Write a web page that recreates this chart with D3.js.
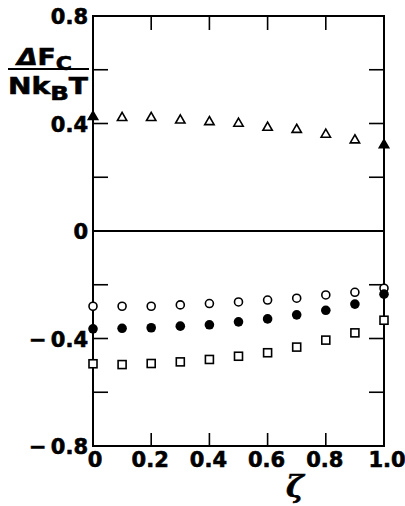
<!DOCTYPE html>
<html>
<head>
<meta charset="utf-8">
<script src="https://cdn.jsdelivr.net/npm/d3@7"></script>
<style>
  body { margin: 0; background: #fff; }
  svg { font-family: "DejaVu Sans", "Liberation Sans", sans-serif; font-weight: bold; }
  svg text { stroke: #000; stroke-width: 0.6px; }
</style>
</head>
<body>
<svg id="chart"></svg>
<script>
// values
const zeta = [0, 0.1, 0.2, 0.3, 0.4, 0.5, 0.6, 0.7, 0.8, 0.9, 1.0];
const triangles = [0.425, 0.421, 0.421, 0.412, 0.406, 0.4, 0.385, 0.377, 0.359, 0.338, 0.32];
const openCircles = [-0.28, -0.28, -0.28, -0.275, -0.27, -0.264, -0.257, -0.25, -0.238, -0.228, -0.213];
const filledCircles = [-0.364, -0.362, -0.36, -0.354, -0.349, -0.338, -0.327, -0.312, -0.295, -0.272, -0.235];
const squares = [-0.494, -0.497, -0.493, -0.487, -0.478, -0.466, -0.453, -0.432, -0.406, -0.379, -0.332];
const xTicks = [0, 0.2, 0.4, 0.6, 0.8, 1.0];
const xTickLabels = ["0", "0.2", "0.4", "0.6", "0.8", "1.0"];
const yMinorTicks = [0.6, 0.4, 0.2, -0.2, -0.4, -0.6];
const yTicks = [0.8, 0.4, 0, -0.4, -0.8];
const yTickLabels = ["0.8", "0.4", "0", "\u2212\u20090.4", "\u2212\u20090.8"];

const svgWidth = 405;
const svgHeight = 506;
const margin = { top: 16, right: 21, bottom: 60, left: 93 };
const width = svgWidth - margin.left - margin.right;
const height = svgHeight - margin.top - margin.bottom;

const svg = d3.select("#chart").attr("width", svgWidth).attr("height", svgHeight);
const g = svg.append("g").attr("transform", `translate(${margin.left},${margin.top})`);

const xScale = d3.scaleLinear().domain([0, 1]).range([0, width]);
const yScale = d3.scaleLinear().domain([-0.8, 0.8]).range([height, 0]);

// frame
g.append("rect")
  .attr("width", width)
  .attr("height", height)
  .attr("fill", "none")
  .attr("stroke", "#000")
  .attr("stroke-width", 2);

// zero line
g.append("line")
  .attr("x1", 0).attr("x2", width)
  .attr("y1", yScale(0)).attr("y2", yScale(0))
  .attr("stroke", "#000").attr("stroke-width", 2);

// inward ticks on left and right
g.append("g").selectAll("line").data(yMinorTicks).join("line")
  .attr("x1", 0).attr("x2", 15)
  .attr("y1", (d) => yScale(d)).attr("y2", (d) => yScale(d))
  .attr("stroke", "#000").attr("stroke-width", 1.6);
g.append("g").selectAll("line").data(yMinorTicks).join("line")
  .attr("x1", width - 15).attr("x2", width)
  .attr("y1", (d) => yScale(d)).attr("y2", (d) => yScale(d))
  .attr("stroke", "#000").attr("stroke-width", 1.6);

// inward ticks top and bottom
const innerX = xTicks.slice(1, -1);
g.append("g").selectAll("line").data(innerX).join("line")
  .attr("x1", (d) => xScale(d)).attr("x2", (d) => xScale(d))
  .attr("y1", height).attr("y2", height - 13)
  .attr("stroke", "#000").attr("stroke-width", 1.6);
g.append("g").selectAll("line").data(innerX).join("line")
  .attr("x1", (d) => xScale(d)).attr("x2", (d) => xScale(d))
  .attr("y1", 0).attr("y2", 14)
  .attr("stroke", "#000").attr("stroke-width", 1.6);

// y tick labels
g.append("g").selectAll("text").data(yTicks).join("text")
  .attr("x", -5)
  .attr("y", (d) => yScale(d) + 8)
  .attr("text-anchor", "end")
  .style("font-size", "21px")
  .text((d, i) => yTickLabels[i]);

// x tick labels
g.append("g").selectAll("text").data(xTicks).join("text")
  .attr("x", (d) => xScale(d) + (d === 0 ? 2 : d === 1 ? 3 : -1))
  .attr("y", height + 21)
  .attr("text-anchor", "middle")
  .style("font-size", "21px")
  .text((d, i) => xTickLabels[i]);

// x axis label
svg.append("text")
  .attr("x", 295)
  .attr("y", 497)
  .attr("text-anchor", "middle")
  .style("font-size", "30px")
  .style("font-family", "'DejaVu Serif', serif")
  .style("font-style", "italic")
  .text("\u03b6");

// y axis label as a fraction
const num = svg.append("text").attr("x", 17).attr("y", 65).style("font-size", "23px")
  .attr("textLength", 55).attr("lengthAdjust", "spacingAndGlyphs");
num.append("tspan").style("font-style", "italic").text("\u0394");
num.append("tspan").text("F");
num.append("tspan").attr("dy", 5).style("font-size", "19px").text("C");
svg.append("line")
  .attr("x1", 8).attr("x2", 89)
  .attr("y1", 69).attr("y2", 69)
  .attr("stroke", "#000").attr("stroke-width", 2.2);
const den = svg.append("text").attr("x", 8).attr("y", 94).style("font-size", "23px")
  .attr("textLength", 80).attr("lengthAdjust", "spacingAndGlyphs");
den.append("tspan").text("Nk");
den.append("tspan").attr("dy", 6).style("font-size", "20px").text("B");
den.append("tspan").attr("dy", -6).text("T");

// markers
const pts = (vals) => zeta.map((z, i) => ({ x: z, y: vals[i], end: i === 0 || i === zeta.length - 1 }));

const tri = d3.symbol().type(d3.symbolTriangle).size(38);
g.append("g").selectAll("path").data(pts(triangles)).join("path")
  .attr("d", tri)
  .attr("transform", (d) => `translate(${xScale(d.x)},${yScale(d.y)})`)
  .attr("fill", (d) => (d.end ? "#000" : "#fff"))
  .attr("stroke", "#000")
  .attr("stroke-width", 1.6);

g.append("g").selectAll("circle").data(pts(openCircles)).join("circle")
  .attr("cx", (d) => xScale(d.x))
  .attr("cy", (d) => yScale(d.y))
  .attr("r", 4)
  .attr("fill", "#fff")
  .attr("stroke", "#000")
  .attr("stroke-width", 1.6);

g.append("g").selectAll("circle").data(pts(filledCircles)).join("circle")
  .attr("cx", (d) => xScale(d.x))
  .attr("cy", (d) => yScale(d.y))
  .attr("r", 4.8)
  .attr("fill", "#000");

g.append("g").selectAll("rect").data(pts(squares)).join("rect")
  .attr("x", (d) => xScale(d.x) - 4)
  .attr("y", (d) => yScale(d.y) - 4)
  .attr("width", 8)
  .attr("height", 8)
  .attr("fill", "#fff")
  .attr("stroke", "#000")
  .attr("stroke-width", 1.6);
</script>
</body>
</html>
